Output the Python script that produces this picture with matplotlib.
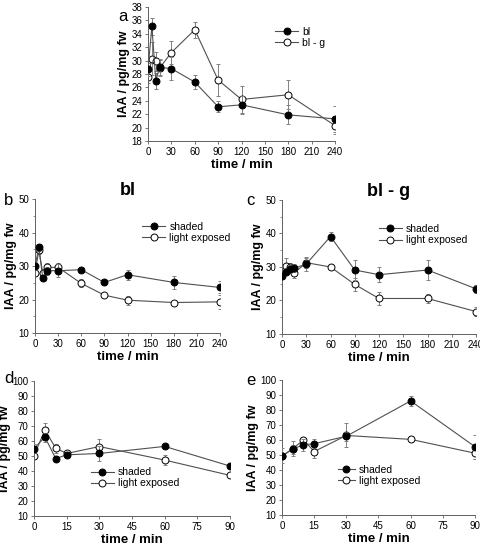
import matplotlib
matplotlib.use("Agg")
import matplotlib.pyplot as plt
from matplotlib.ticker import MultipleLocator

plt.rcParams['font.family'] = ['Liberation Sans', 'DejaVu Sans']

# panel a: bl vs bl - g
t_a = [0, 5, 10, 15, 30, 60, 90, 120, 180, 240]
bl = [28.7, 35.1, 27.0, 29.0, 28.8, 26.8, 23.1, 23.4, 21.9, 21.3]
bl_err = [1.0, 1.3, 1.2, 1.2, 1.7, 1.0, 0.8, 1.3, 1.4, 1.9]
blg = [27.6, 30.3, 29.9, 28.9, 31.2, 34.6, 27.1, 24.2, 24.9, 20.3]
blg_err = [1.0, 2.5, 1.4, 1.2, 1.7, 1.2, 2.4, 2.0, 2.2, 1.3]

# panel b: bl
t_b = [0, 5, 10, 15, 30, 60, 90, 120, 180, 240]
b_shaded = [29.9, 35.6, 26.4, 28.6, 28.6, 28.9, 25.1, 27.4, 25.1, 23.6]
b_shaded_err = [1.0, 1.0, 0.8, 1.2, 2.0, 0.6, 0.8, 1.5, 2.0, 1.8]
b_light = [27.9, 34.8, 28.0, 29.6, 29.6, 24.8, 21.3, 19.8, 19.1, 19.3]
b_light_err = [1.0, 1.2, 1.0, 1.2, 1.2, 1.2, 0.6, 1.3, 0.6, 2.0]

# panel c: bl - g
t_c = [0, 5, 10, 15, 30, 60, 90, 120, 180, 240]
c_shaded = [27.4, 28.6, 29.4, 29.6, 30.9, 39.1, 29.1, 27.7, 29.1, 23.5]
c_shaded_err = [1.0, 1.0, 1.2, 1.2, 2.0, 1.2, 3.0, 2.2, 3.0, 1.2]
c_light = [28.0, 30.3, 30.0, 28.2, 31.3, 30.0, 24.8, 20.6, 20.6, 16.7]
c_light_err = [1.0, 2.5, 1.2, 1.5, 1.5, 0.5, 2.0, 1.8, 1.2, 1.3]

# panel d
t_d = [0, 5, 10, 15, 30, 60, 90]
d_shaded = [55.0, 62.6, 48.3, 50.8, 51.7, 56.4, 43.3]
d_shaded_err = [3.0, 3.0, 1.5, 2.0, 5.0, 1.0, 1.5]
d_light = [50.3, 67.3, 55.2, 51.7, 56.3, 47.3, 37.1]
d_light_err = [2.0, 4.5, 3.0, 2.5, 5.0, 3.5, 1.5]

# panel e
t_e = [0, 5, 10, 15, 30, 60, 90]
e_shaded = [49.4, 53.9, 56.8, 57.5, 62.5, 86.0, 55.5]
e_shaded_err = [5.0, 3.0, 4.0, 3.0, 3.0, 3.5, 8.0]
e_light = [49.4, 54.1, 60.1, 52.3, 63.0, 60.4, 51.2]
e_light_err = [2.0, 5.0, 2.0, 4.0, 8.0, 1.0, 4.0]

fig = plt.figure(figsize=(4.81, 5.46), dpi=100)

LINE = '#505050'
ERR = '#808080'


def draw(ax, t, y1, e1, y2, e2, lab1, lab2):
    c2 = ax.errorbar(t, y2, yerr=e2, color=LINE, lw=0.8, marker='o', ms=5,
                     mfc='white', mec='black', mew=0.7, ecolor=ERR,
                     elinewidth=0.7, capsize=1.5, capthick=0.7, zorder=2)
    c1 = ax.errorbar(t, y1, yerr=e1, color=LINE, lw=0.8, marker='o', ms=5,
                     mfc='black', mec='black', mew=0.7, ecolor=ERR,
                     elinewidth=0.7, capsize=1.5, capthick=0.7, zorder=3)
    # legend uses the plain line+marker, no error bar
    c1[0].set_label(lab1)
    c2[0].set_label(lab2)
    for s in ['top', 'right']:
        ax.spines[s].set_visible(False)
    for s in ['left', 'bottom']:
        ax.spines[s].set_color('#606060')
        ax.spines[s].set_linewidth(0.7)
    ax.tick_params(direction='out', length=2.5, width=0.6, labelsize=7,
                   color='#606060', pad=1.5)
    ax.tick_params(which='minor', direction='out', length=1.5, width=0.5,
                   color='#606060')
    ax.set_xlabel('time / min', fontweight='bold', fontsize=9.5, labelpad=2)
    ax.set_ylabel('IAA / pg/mg fw', fontweight='bold', fontsize=9, labelpad=1)
    return c1[0], c2[0]


def legend(ax, handles, anchor, hl=2.2):
    ax.legend(handles=list(handles), loc='upper left', bbox_to_anchor=anchor,
              frameon=False, fontsize=7.5, handlelength=hl,
              handletextpad=0.4, labelspacing=0.1, borderpad=0,
              borderaxespad=0)


# a
ax_a = fig.add_axes([0.3077, 0.7418, 0.3888, 0.2454])
hs = draw(ax_a, t_a, bl, bl_err, blg, blg_err, 'bl', 'bl - g')
ax_a.set_xlim(0, 240)
ax_a.set_ylim(18, 38)
ax_a.set_xticks(range(0, 241, 30))
ax_a.yaxis.set_major_locator(MultipleLocator(2))
legend(ax_a, hs, (0.68, 0.85))
fig.text(0.245, 0.962, 'a', fontsize=12)

# b
ax_b = fig.add_axes([0.0728, 0.3901, 0.3846, 0.2454])
hs = draw(ax_b, t_b, b_shaded, b_shaded_err, b_light, b_light_err,
          'shaded', 'light exposed')
ax_b.set_xlim(0, 240)
ax_b.set_ylim(10, 50)
ax_b.set_xticks(range(0, 241, 30))
ax_b.yaxis.set_major_locator(MultipleLocator(10))
ax_b.yaxis.set_minor_locator(MultipleLocator(5))
legend(ax_b, hs, (0.58, 0.83))
ax_b.set_title('bl', fontweight='bold', fontsize=13, pad=-2)
fig.text(0.008, 0.625, 'b', fontsize=12)

# c
ax_c = fig.add_axes([0.5863, 0.3883, 0.4033, 0.2454])
hs = draw(ax_c, t_c, c_shaded, c_shaded_err, c_light, c_light_err,
          'shaded', 'light exposed')
ax_c.set_xlim(0, 240)
ax_c.set_ylim(10, 50)
ax_c.set_xticks(range(0, 241, 30))
ax_c.yaxis.set_major_locator(MultipleLocator(10))
ax_c.yaxis.set_minor_locator(MultipleLocator(5))
legend(ax_c, hs, (0.50, 0.82))
ax_c.set_title('bl - g', fontweight='bold', fontsize=13, pad=-2, x=0.55)
fig.text(0.512, 0.625, 'c', fontsize=12)

# d
ax_d = fig.add_axes([0.0707, 0.0549, 0.4075, 0.2473])
hs = draw(ax_d, t_d, d_shaded, d_shaded_err, d_light, d_light_err,
          'shaded', 'light exposed')
ax_d.set_xlim(0, 90)
ax_d.set_ylim(10, 100)
ax_d.set_xticks(range(0, 91, 15))
ax_d.yaxis.set_major_locator(MultipleLocator(10))
legend(ax_d, hs, (0.29, 0.36))
fig.text(0.008, 0.298, 'd', fontsize=12)

# e
ax_e = fig.add_axes([0.5863, 0.0568, 0.4012, 0.2473])
hs = draw(ax_e, t_e, e_shaded, e_shaded_err, e_light, e_light_err,
          'shaded', 'light exposed')
ax_e.set_xlim(0, 90)
ax_e.set_ylim(10, 100)
ax_e.set_xticks(range(0, 91, 15))
ax_e.yaxis.set_major_locator(MultipleLocator(10))
legend(ax_e, hs, (0.29, 0.37), hl=1.6)
fig.text(0.512, 0.295, 'e', fontsize=12)

fig.savefig('out.png', dpi=100)
